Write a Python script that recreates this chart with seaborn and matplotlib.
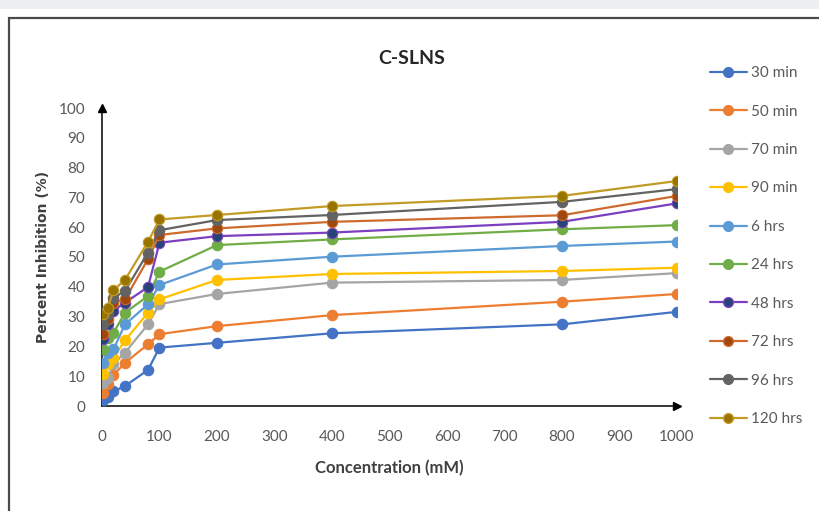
import matplotlib
matplotlib.use("Agg")
import matplotlib.pyplot as plt
from matplotlib.patches import Rectangle
from matplotlib.lines import Line2D
import seaborn as sns
import pandas as pd

# ---- data ----
concentrations = [2, 10, 20, 40, 80, 100, 200, 400, 800, 1000]
series_labels = ["30 min", "50 min", "70 min", "90 min", "6 hrs",
                 "24 hrs", "48 hrs", "72 hrs", "96 hrs", "120 hrs"]
inh_30min = [2.0, 3.1, 4.9, 6.7, 12.1, 19.6, 21.2, 24.4, 27.4, 31.6]
inh_50min = [4.5, 7.4, 10.4, 14.5, 20.7, 24.1, 26.8, 30.5, 35.0, 37.6]
inh_70min = [7.8, 9.5, 14.0, 17.9, 27.4, 34.2, 37.6, 41.4, 42.3, 44.6]
inh_90min = [10.8, 14.0, 16.2, 22.0, 31.3, 35.8, 42.3, 44.3, 45.3, 46.4]
inh_6hrs = [14.5, 17.9, 19.0, 27.4, 34.1, 40.6, 47.5, 50.1, 53.7, 55.2]
inh_24hrs = [19.0, 22.9, 24.6, 31.3, 36.9, 45.1, 54.0, 55.9, 59.3, 60.7]
inh_48hrs = [22.4, 27.5, 31.9, 34.7, 39.9, 54.8, 57.0, 58.2, 61.8, 68.0]
inh_72hrs = [24.0, 29.2, 34.7, 35.8, 49.3, 57.4, 59.6, 61.8, 64.0, 70.5]
inh_96hrs = [27.4, 30.8, 36.3, 38.6, 51.5, 59.0, 62.4, 64.1, 68.5, 72.8]
inh_120hrs = [31.0, 32.8, 38.9, 42.3, 55.1, 62.6, 64.1, 67.1, 70.5, 75.5]
all_series = [inh_30min, inh_50min, inh_70min, inh_90min, inh_6hrs,
              inh_24hrs, inh_48hrs, inh_72hrs, inh_96hrs, inh_120hrs]
x_ticks = list(range(0, 1001, 100))
y_ticks = list(range(0, 101, 10))

# ---- styling ----
line_colors = ["#4472C4", "#ED7D31", "#A5A5A5", "#FFC000", "#5B9BD5",
               "#70AD47", "#7B3FBF", "#CF6A2E", "#636363", "#C29B25"]
marker_colors = ["#4472C4", "#ED7D31", "#A5A5A5", "#FFC000", "#5B9BD5",
                 "#70AD47", "#264478", "#9E480E", "#636363", "#997300"]

rows = []
for lab, vals in zip(series_labels, all_series):
    for c, v in zip(concentrations, vals):
        rows.append({"Concentration": c, "Inhibition": v, "Series": lab})
df = pd.DataFrame(rows)

sns.set_style("white")
plt.rcParams["font.family"] = ["Lato", "DejaVu Sans"]

fig = plt.figure(figsize=(8.2, 5.11), dpi=100)
fig.patch.set_facecolor("white")
# top gray band and outer frame
fig.patches.append(Rectangle((0, 1 - 9 / 511), 1, 9 / 511, transform=fig.transFigure,
                             facecolor="#eceef1", edgecolor="none", zorder=0))
fig.patches.append(Rectangle((9 / 820, -0.1), 1.2, 1.1 - 18 / 511,
                             transform=fig.transFigure, facecolor="none",
                             edgecolor="#4a4a4a", linewidth=1.6, zorder=0))

ax = fig.add_axes([102 / 820, (511 - 406) / 511, 575 / 820, 298 / 511])
sns.lineplot(data=df, x="Concentration", y="Inhibition", hue="Series",
             hue_order=series_labels, palette=line_colors, marker="o",
             markersize=7.5, linewidth=1.6, markeredgewidth=0.8, ax=ax,
             legend=False, zorder=3)

handles = []
for line, lc, mc, lab in zip(ax.lines, line_colors, marker_colors, series_labels):
    line.set_markerfacecolor(mc)
    line.set_markeredgecolor(lc)
    handles.append(Line2D([], [], color=lc, linewidth=1.6, marker="o",
                          markersize=7, markerfacecolor=mc, markeredgecolor=lc,
                          label=lab))

ax.set_xlim(0, 1000)
ax.set_ylim(0, 100)
ax.set_xticks(x_ticks)
ax.set_yticks(y_ticks)
for s in ["top", "right"]:
    ax.spines[s].set_visible(False)
for s in ["left", "bottom"]:
    ax.spines[s].set_color("black")
    ax.spines[s].set_linewidth(1.1)
ax.tick_params(direction="in", length=5, width=1, colors="black",
               labelcolor="#595959", labelsize=11)
ax.tick_params(axis="x", pad=17)
ax.tick_params(axis="y", pad=12)
ax.plot(1, 0, ">", color="black", markersize=6, transform=ax.transAxes, clip_on=False)
ax.plot(0, 1, "^", color="black", markersize=6, transform=ax.transAxes, clip_on=False)

ax.set_xlabel("Concentration (mM)", fontsize=12, fontweight="bold", color="#404040",
              labelpad=12)
ax.set_ylabel("Percent Inhibition (%)", fontsize=10, fontweight="bold", color="#404040",
              family=["DejaVu Sans"], labelpad=6)

fig.text(412 / 820, 1 - 58 / 511, "C-SLNS", ha="center", va="center",
         fontsize=14, fontweight="bold", color="#262626")

fig.legend(handles=handles, loc="upper left", bbox_to_anchor=(704 / 820, 1 - 60 / 511),
           frameon=False, fontsize=11, labelcolor="#595959", handlelength=2.4,
           handletextpad=0.3, labelspacing=1.6, borderaxespad=0)

fig.savefig("out.png", dpi=100)
